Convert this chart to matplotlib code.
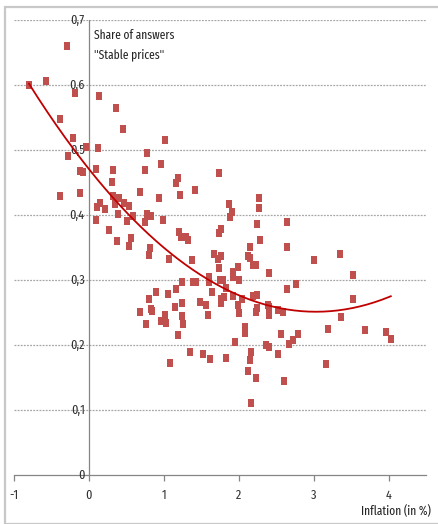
import numpy as np
import matplotlib
matplotlib.use("Agg")
import matplotlib.pyplot as plt
from matplotlib.patches import Rectangle
from matplotlib.path import Path

inflation = [
    -0.29, -0.80, -0.57, -0.19, 0.13, 0.36, -0.39, 0.45, -0.21, 1.01,
    -0.04, 0.12, -0.28, 0.77, 0.96, -0.12, -0.08, 0.09, 0.32, 0.75,
    0.31, 1.16, 1.19, 1.73, -0.39, -0.12, 0.32, 0.68, 1.21, 1.41,
    0.93, 2.27, 0.40, 0.11, 0.15, 0.21, 0.35, 0.47, 0.53, 0.39,
    0.59, 0.77, 0.83, 0.09, 0.51, 0.75, 0.99, 0.27, 1.20, 1.23,
    1.29, 1.32, 1.73, 0.37, 0.56, 0.53, 0.81, 0.80, 1.07, 1.37,
    1.67, 1.72, 1.60, 1.24, 1.39, 1.43, 1.60, 1.75, 0.89, 1.16,
    1.05, 1.64, 0.80, 1.48, 1.56, 1.24, 1.15, 0.68, 0.83, 0.84,
    1.01, 0.96, 1.03, 1.24, 1.59, 0.76, 1.25, 1.19, 1.35, 1.52,
    1.61, 1.08, 2.27, 1.87, 1.91, 1.89, 2.24, 2.64, 1.76, 2.28,
    2.65, 2.15, 1.77, 1.73, 2.12, 2.15, 2.19, 2.23, 1.99, 2.41,
    3.00, 3.35, 3.53, 1.79, 1.93, 1.93, 2.00, 1.83, 1.93, 2.04,
    2.19, 2.25, 2.65, 2.77, 1.76, 1.76, 1.80, 1.99, 2.00, 2.25,
    2.23, 2.39, 2.40, 2.41, 2.53, 2.59, 3.52, 3.36, 3.19, 3.69,
    3.97, 4.03, 2.08, 2.08, 2.56, 2.79, 2.72, 2.67, 1.95, 2.37,
    2.40, 1.83, 2.16, 2.15, 2.53, 3.17, 2.13, 2.23, 2.61, 2.17,
]
share = [
    0.660, 0.600, 0.606, 0.588, 0.583, 0.565, 0.548, 0.532, 0.518, 0.515,
    0.505, 0.503, 0.491, 0.495, 0.478, 0.468, 0.466, 0.471, 0.469, 0.469,
    0.451, 0.449, 0.457, 0.465, 0.429, 0.434, 0.429, 0.435, 0.431, 0.438,
    0.426, 0.426, 0.426, 0.412, 0.418, 0.409, 0.417, 0.418, 0.414, 0.402,
    0.398, 0.402, 0.398, 0.392, 0.391, 0.389, 0.392, 0.377, 0.374, 0.366,
    0.366, 0.362, 0.372, 0.360, 0.365, 0.352, 0.349, 0.338, 0.332, 0.331,
    0.340, 0.332, 0.305, 0.297, 0.297, 0.297, 0.297, 0.300, 0.282, 0.286,
    0.278, 0.282, 0.271, 0.266, 0.262, 0.265, 0.258, 0.251, 0.255, 0.252,
    0.246, 0.237, 0.234, 0.245, 0.246, 0.232, 0.232, 0.215, 0.189, 0.186,
    0.178, 0.172, 0.411, 0.417, 0.405, 0.397, 0.386, 0.389, 0.378, 0.362,
    0.351, 0.351, 0.337, 0.318, 0.337, 0.334, 0.323, 0.323, 0.320, 0.311,
    0.331, 0.340, 0.308, 0.300, 0.312, 0.305, 0.300, 0.288, 0.275, 0.271,
    0.275, 0.277, 0.286, 0.294, 0.271, 0.265, 0.274, 0.262, 0.249, 0.257,
    0.251, 0.262, 0.258, 0.246, 0.254, 0.251, 0.271, 0.243, 0.225, 0.223,
    0.220, 0.209, 0.228, 0.218, 0.217, 0.217, 0.208, 0.202, 0.205, 0.200,
    0.197, 0.180, 0.189, 0.177, 0.186, 0.171, 0.160, 0.149, 0.145, 0.111,
]
x_ticks = [-1, 0, 1, 2, 3, 4]
x_tick_labels = ["-1", "0", "1", "2", "3", "4"]
y_ticks = [0, 0.1, 0.2, 0.3, 0.4, 0.5, 0.6, 0.7]
y_tick_labels = ["0", "0,1", "0,2", "0,3", "0,4", "0,5", "0,6", "0,7"]

FONT = ["Fira Sans Extra Condensed", "DejaVu Sans"]
plt.rcParams["font.family"] = FONT

W, H = 439, 524
fig = plt.figure(figsize=(W / 100, H / 100), dpi=100)
fig.patches.append(Rectangle((5 / W, 0), 1, 1 - 7 / H, transform=fig.transFigure,
                             fill=False, edgecolor="#c8c8c8", lw=1.6, zorder=0))

ax = fig.add_axes([14 / W, 1 - 475 / H, (426 - 14) / W, (475 - 20) / H])
ax.set_xlim(-1, 4.5)
ax.set_ylim(0, 0.7)

for yv in y_ticks[1:]:
    ax.axhline(yv, color="#a6a6a6", lw=0.9, ls=(0, (1.5, 1.0)), zorder=1)

grey = "#868686"
for s in ["top", "right", "left"]:
    ax.spines[s].set_visible(False)
ax.spines["bottom"].set_color(grey)
ax.spines["bottom"].set_linewidth(0.9)
ax.axvline(0, color=grey, lw=0.9, zorder=2)

ax.set_xticks(x_ticks)
ax.set_xticklabels(x_tick_labels)
ax.tick_params(axis="x", length=4, width=0.9, color=grey, pad=6, labelsize=9.5,
               labelcolor="#333333")
ax.set_yticks([])

for yv, lab in zip(y_ticks, y_tick_labels):
    ax.annotate(lab, xy=(0, yv), xytext=(-3, 0), textcoords="offset points",
                ha="right", va="center", fontsize=9.5, color="#333333", zorder=3)

marker = Path([(-0.72, -1), (0.72, -1), (0.72, 1), (-0.72, 1), (-0.72, -1)],
              [Path.MOVETO, Path.LINETO, Path.LINETO, Path.LINETO, Path.CLOSEPOLY])
ax.scatter(inflation, share, s=36, marker=marker, color="#c0504d",
           edgecolors="none", zorder=4)

coef = np.polyfit(inflation, share, 2)
xs = np.linspace(min(inflation), max(inflation), 200)
ax.plot(xs, np.polyval(coef, xs), color="#c00000", lw=1.3, zorder=5)

ax.text(0.07, 0.686, "Share of answers", fontsize=9, color="#262626", va="top", ha="left")
ax.text(0.07, 0.656, "\"Stable prices\"", fontsize=9, color="#262626", va="top", ha="left")
fig.text(431 / W, 1 - 511 / H, "Inflation (in %)", fontsize=9, color="#262626",
         ha="right", va="center")

fig.savefig("out.png", dpi=100)
